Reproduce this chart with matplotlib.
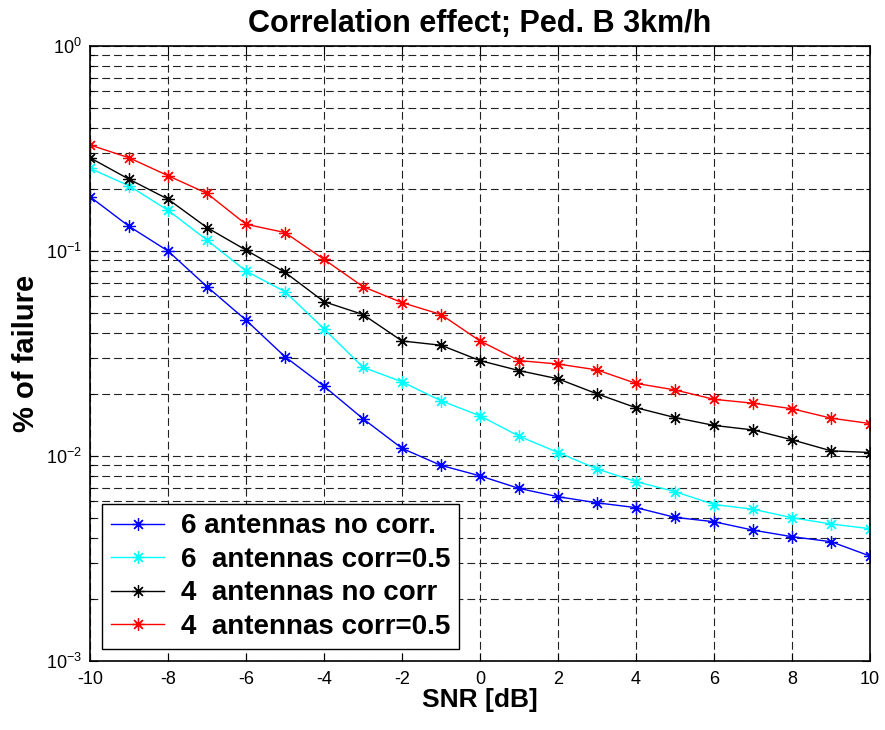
import matplotlib
matplotlib.use("Agg")
import matplotlib.pyplot as plt
from matplotlib.ticker import FixedLocator, FixedFormatter, LogLocator, NullFormatter
import numpy as np

plt.rcParams['font.family'] = ['Liberation Sans', 'DejaVu Sans']
plt.rcParams['mathtext.fontset'] = 'custom'
plt.rcParams['mathtext.rm'] = 'Liberation Sans'

snr = list(range(-10, 11))

ant6_nocorr = [0.184, 0.132, 0.100, 0.067, 0.046, 0.0305, 0.0219, 0.0152, 0.0109, 0.0090, 0.0080,
               0.00695, 0.00633, 0.00591, 0.00560, 0.00502, 0.00478, 0.00435, 0.00404, 0.00382, 0.00325]
ant6_corr = [0.253, 0.208, 0.158, 0.113, 0.0798, 0.0633, 0.0417, 0.0271, 0.0230, 0.0186, 0.0157,
             0.0125, 0.0104, 0.00865, 0.0075, 0.0067, 0.0058, 0.0055, 0.0050, 0.00466, 0.00442]
ant4_nocorr = [0.285, 0.224, 0.179, 0.130, 0.101, 0.0787, 0.0566, 0.049, 0.0364, 0.0347, 0.0292,
               0.0261, 0.0238, 0.0201, 0.0172, 0.0154, 0.0141, 0.0134, 0.0120, 0.0106, 0.0104]
ant4_corr = [0.329, 0.285, 0.233, 0.191, 0.135, 0.123, 0.091, 0.067, 0.056, 0.049, 0.0364,
             0.0292, 0.0281, 0.0263, 0.0226, 0.0210, 0.0189, 0.0181, 0.0170, 0.0153, 0.0144]

labels = ['6 antennas no corr.', '6  antennas corr=0.5', '4  antennas no corr', '4  antennas corr=0.5']
colors = ['#0000ff', '#00ffff', '#000000', '#ff0000']
series = [ant6_nocorr, ant6_corr, ant4_nocorr, ant4_corr]

xticks = list(range(-10, 11, 2))
yticks = [1e-3, 1e-2, 1e-1, 1e0]
yticklabels = [r'$\mathregular{10^{-3}}$', r'$\mathregular{10^{-2}}$', r'$\mathregular{10^{-1}}$', r'$\mathregular{10^{0}}$']

fig = plt.figure(figsize=(8.85, 7.3), dpi=100)
ax = fig.add_axes([0.1017, 0.0945, 0.8814, 0.8425])

asterisk = (8, 2, 0)
for y, c, lab in zip(series, colors, labels):
    ax.plot(snr, y, color=c, lw=1.0, marker=asterisk, markersize=9, markeredgewidth=0.9,
            label=lab)

ax.set_yscale('log')
ax.set_xlim(-10, 10)
ax.set_ylim(1e-3, 1e0)
ax.xaxis.set_major_locator(FixedLocator(xticks))
ax.set_xticklabels([str(t) for t in xticks])
ax.yaxis.set_major_locator(FixedLocator(yticks))
ax.yaxis.set_major_formatter(FixedFormatter(yticklabels))
ax.yaxis.set_minor_locator(LogLocator(base=10, subs=np.arange(2, 10)))
ax.yaxis.set_minor_formatter(NullFormatter())

gridkw = dict(color='#222222', lw=0.8, linestyle=(0, (7, 3.6)))
ax.grid(True, which='major', axis='both', **gridkw)
ax.grid(True, which='minor', axis='y', **gridkw)

ax.tick_params(which='both', direction='in', top=True, right=True, labelsize=13)
ax.tick_params(axis='x', which='major', pad=7)
ax.tick_params(axis='y', which='major', pad=6)
ax.tick_params(which='major', length=6, width=0.8)
ax.tick_params(which='minor', length=3, width=0.8)
for s in ax.spines.values():
    s.set_linewidth(1.2)

ax.set_title('Correlation effect; Ped. B 3km/h', fontsize=22, fontweight='bold', pad=10)
ax.set_xlabel('SNR [dB]', fontsize=19, fontweight='bold', labelpad=0)
ax.set_ylabel('% of failure', fontsize=21, fontweight='bold', labelpad=4)

leg = ax.legend(loc='lower left', prop={'weight': 'bold', 'size': 20},
                fancybox=False, framealpha=1, edgecolor='black', borderpad=0.33,
                handlelength=1.9, handletextpad=0.6, labelspacing=0.27,
                bbox_to_anchor=(0, 0), borderaxespad=0.43)
leg.get_frame().set_linewidth(1.0)

fig.savefig('out.png', dpi=100)
